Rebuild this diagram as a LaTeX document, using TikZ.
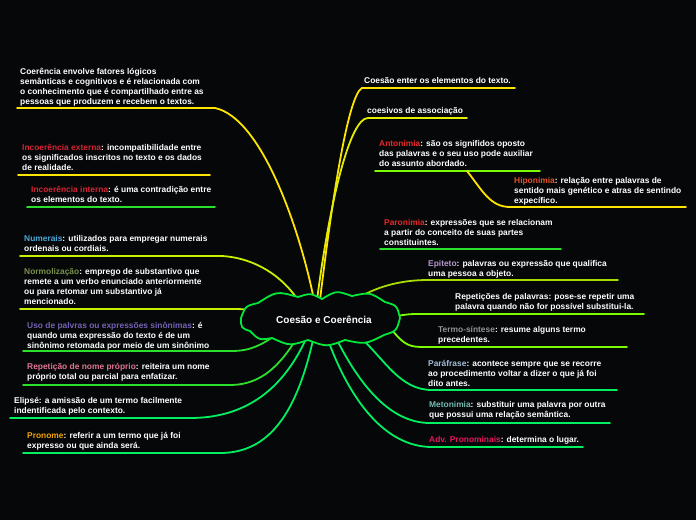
\documentclass[tikz,border=0pt]{standalone}
\usepackage{fontspec}
\setmainfont{Liberation Sans}
\definecolor{bgc}{HTML}{050708}
\definecolor{yel}{HTML}{FFE400}
\definecolor{ygr}{HTML}{E2EE00}
\definecolor{ygn}{HTML}{C8F000}
\definecolor{epi}{HTML}{A8DC00}
\definecolor{lgr}{HTML}{7CFC00}
\definecolor{grn}{HTML}{2BE02B}
\definecolor{sgr}{HTML}{00F060}
\definecolor{cld}{HTML}{00E83A}
\definecolor{cRed}{HTML}{E8282B}
\definecolor{cExt}{HTML}{D42436}
\definecolor{cHip}{HTML}{E4502A}
\definecolor{cNum}{HTML}{4AA8D8}
\definecolor{cNor}{HTML}{7A8F4A}
\definecolor{cUso}{HTML}{7462B4}
\definecolor{cRep}{HTML}{E27494}
\definecolor{cPro}{HTML}{F2A400}
\definecolor{cEpi}{HTML}{B496CC}
\definecolor{cTer}{HTML}{929292}
\definecolor{cPar}{HTML}{A4BCD8}
\definecolor{cMet}{HTML}{74BCB4}
\definecolor{cAdv}{HTML}{E41862}
\newcommand\lab[2]{\textcolor{#1}{#2}}
\pgfdeclarelayer{bgl}
\pgfdeclarelayer{conn}
\pgfsetlayers{bgl,conn,main}
\begin{document}
\begin{tikzpicture}[x=1pt,y=-1pt,
  txt/.style={anchor=north west, inner sep=0pt, align=left, text=white,
    font=\bfseries\fontsize{8.4}{10}\selectfont},
  br/.style={line width=1.8pt, line cap=round},
  cloudline/.style={draw=cld, fill=bgc, line width=1.8pt, line join=round}]
\useasboundingbox (0,0) rectangle (696,520);
\begin{pgfonlayer}{bgl}
\fill[bgc] (0,0) rectangle (696,520);
\end{pgfonlayer}

% central cloud
\path[cloudline] (241,318)
  .. controls (245.5,306) .. (258,303)
  .. controls (276.7,291) .. (298,297)
  .. controls (310.4,293) .. (322,299)
  .. controls (336.3,290.5) .. (352,296)
  .. controls (369.8,292.1) .. (385,302)
  .. controls (397,305.5) .. (400,318)
  .. controls (396.5,331) .. (384,335)
  .. controls (365.4,344.4) .. (345,340)
  .. controls (326.5,347) .. (308,340)
  .. controls (289.6,346) .. (272,338)
  .. controls (259.2,340.2) .. (250,331)
  .. controls (241,328) .. cycle;
\node[inner sep=0pt, text=white, font=\bfseries\fontsize{10}{12}\selectfont] (c) at (324,320) {Coesão e Coerência};

% texts, left
\node[txt] (t1) at (20,68) {Coerência envolve fatores lógicos\\semânticas e cognitivos e é relacionada com\\o conhecimento que é compartilhado entre as\\pessoas que produzem e recebem o textos.};
\node[txt] (t2) at (22,144) {\lab{cExt}{Incoerência externa}: incompatibilidade entre\\os significados inscritos no texto e os dados\\de realidade.};
\node[txt] (t3) at (31,186) {\lab{cExt}{Incoerência interna}: é uma contradição entre\\os elementos do texto.};
\node[txt] (t4) at (24,235) {\lab{cNum}{Numerais}: utilizados para empregar numerais\\ordenais ou cordiais.};
\node[txt] (t5) at (24,268) {\lab{cNor}{Normolização}: emprego de substantivo que\\remete a um verbo enunciado anteriormente\\ou para retomar um substantivo já\\mencionado.};
\node[txt] (t6) at (27,322) {\lab{cUso}{Uso de palvras ou expressões sinônimas}: é\\quando uma expressão do texto é de um\\sinônimo retomada por meio de um sinônimo};
\node[txt] (t7) at (27,363) {\lab{cRep}{Repetição de nome próprio}: reiteira um nome\\próprio total ou parcial para enfatizar.};
\node[txt] (t8) at (14,397) {Elipsé: a amissão de um termo facilmente\\indentificada pelo contexto.};
\node[txt] (t9) at (27,432) {\lab{cPro}{Pronome}: referir a um termo que já foi\\expresso ou que ainda será.};

% texts, right
\node[txt] (r1) at (364,77) {Coesão enter os elementos do texto.};
\node[txt] (r2) at (367,107) {coesivos de associação};
\node[txt] (r3) at (379,140) {\lab{cRed}{Antonimia}: são os signifidos oposto\\das palavras e o seu uso pode auxiliar\\do assunto abordado.};
\node[txt] (r4) at (514,177) {\lab{cHip}{Hiponimia}: relação entre palavras de\\sentido mais genético e atras de sentindo\\expecífico.};
\node[txt] (r5) at (384,219) {\lab{cRed}{Paronimia}: expressões que se relacionam\\a partir do conceito de suas partes\\constituintes.};
\node[txt] (r6) at (428,260) {\lab{cEpi}{Epiteto}: palavras ou expressão que qualifica\\uma pessoa a objeto.};
\node[txt] (r7) at (455,293) {Repetições de palavras: pose-se repetir uma\\palavra quando não for possível substitui-la.};
\node[txt] (r8) at (438,326) {\lab{cTer}{Termo-síntese}: resume alguns termo\\precedentes.};
\node[txt] (r9) at (428,360) {\lab{cPar}{Paráfrase}: acontece sempre que se recorre\\ao procedimento voltar a dizer o que já foi\\dito antes.};
\node[txt] (r10) at (429,401) {\lab{cMet}{Metonimia}: substituir uma palavra por outra\\que possui uma relação semântica.};
\node[txt] (r11) at (429,436) {\lab{cAdv}{Adv. Pronominais}: determina o lugar.};

% connector end points
\coordinate (a1) at (314,300); \coordinate (u1) at (215,108); \coordinate (e1) at (17,108);
\coordinate (u2) at (210,175); \coordinate (e2) at (18,175);
\coordinate (u3) at (215,207); \coordinate (e3) at (27,207);
\coordinate (a4) at (298,300); \coordinate (u4) at (222,256); \coordinate (e4) at (20,256);
\coordinate (a5) at (250,310); \coordinate (u5) at (232,309); \coordinate (e5) at (20,309);
\coordinate (a6) at (277,334); \coordinate (u6) at (232,351); \coordinate (e6) at (23,351);
\coordinate (a7) at (297,338); \coordinate (u7) at (232,385); \coordinate (e7) at (23,385);
\coordinate (a8) at (306,339); \coordinate (u8) at (190,418); \coordinate (e8) at (10,418);
\coordinate (a9) at (313,340); \coordinate (u9) at (220,453); \coordinate (e9) at (23,453);
\coordinate (b1) at (320,300); \coordinate (v1) at (362,88); \coordinate (f1) at (515,88);
\coordinate (b2) at (317,300); \coordinate (v2) at (368,118); \coordinate (f2) at (467,118);
\coordinate (v3) at (375,171); \coordinate (f3) at (540,171);
\coordinate (b4) at (467,171); \coordinate (v4) at (510,207); \coordinate (f4) at (686,207);
\coordinate (v5) at (380,249); \coordinate (f5) at (561,249);
\coordinate (b6) at (355,300); \coordinate (v6) at (428,280); \coordinate (f6) at (618,280);
\coordinate (b7) at (396,316); \coordinate (v7) at (420,314); \coordinate (f7) at (644,314);
\coordinate (b8) at (392,330); \coordinate (v8) at (425,347); \coordinate (f8) at (627,347);
\coordinate (b9) at (360,337); \coordinate (v9) at (432,390); \coordinate (f9) at (617,390);
\coordinate (b10) at (337,340); \coordinate (v10) at (430,423); \coordinate (f10) at (610,423);
\coordinate (b11) at (328,340); \coordinate (v11) at (432,447); \coordinate (f11) at (583,447);

\begin{pgfonlayer}{conn}
\draw[br, yel] (a1) .. controls (300,230) and (262,118) .. (u1) -- (e1);
\draw[br, yel] (u2) -- (e2);
\draw[br, grn] (u3) -- (e3);
\draw[br, ygn] (a4) .. controls (282,276) and (255,258) .. (u4) -- (e4);
\draw[br, ygn] (a5) .. controls (240,309) .. (u5) -- (e5);
\draw[br, grn] (a6) .. controls (262,345) and (250,351) .. (u6) -- (e6);
\draw[br, grn] (a7) .. controls (280,365) and (262,384) .. (u7) -- (e7);
\draw[br, sgr] (a8) .. controls (280,395) and (240,418) .. (u8) -- (e8);
\draw[br, sgr] (a9) .. controls (295,420) and (265,453) .. (u9) -- (e9);

\draw[br, yel] (b1) .. controls (332,200) and (348,95) .. (v1) -- (f1);
\draw[br, ygr] (b2) .. controls (330,200) and (350,118) .. (v2) -- (f2);
\draw[br, lgr] (v3) -- (f3);
\draw[br, yel] (b4) .. controls (482,190) and (490,207) .. (v4) -- (f4);
\draw[br, grn] (v5) -- (f5);
\draw[br, epi] (b6) .. controls (375,287) and (400,280) .. (v6) -- (f6);
\draw[br, lgr] (b7) .. controls (410,314) .. (v7) -- (f7);
\draw[br, lgr] (b8) .. controls (405,346) and (410,347) .. (v8) -- (f8);
\draw[br, sgr] (b9) .. controls (385,360) and (400,390) .. (v9) -- (f9);
\draw[br, sgr] (b10) .. controls (360,385) and (390,423) .. (v10) -- (f10);
\draw[br, sgr] (b11) .. controls (350,400) and (385,447) .. (v11) -- (f11);
\end{pgfonlayer}
\end{tikzpicture}
\end{document}
